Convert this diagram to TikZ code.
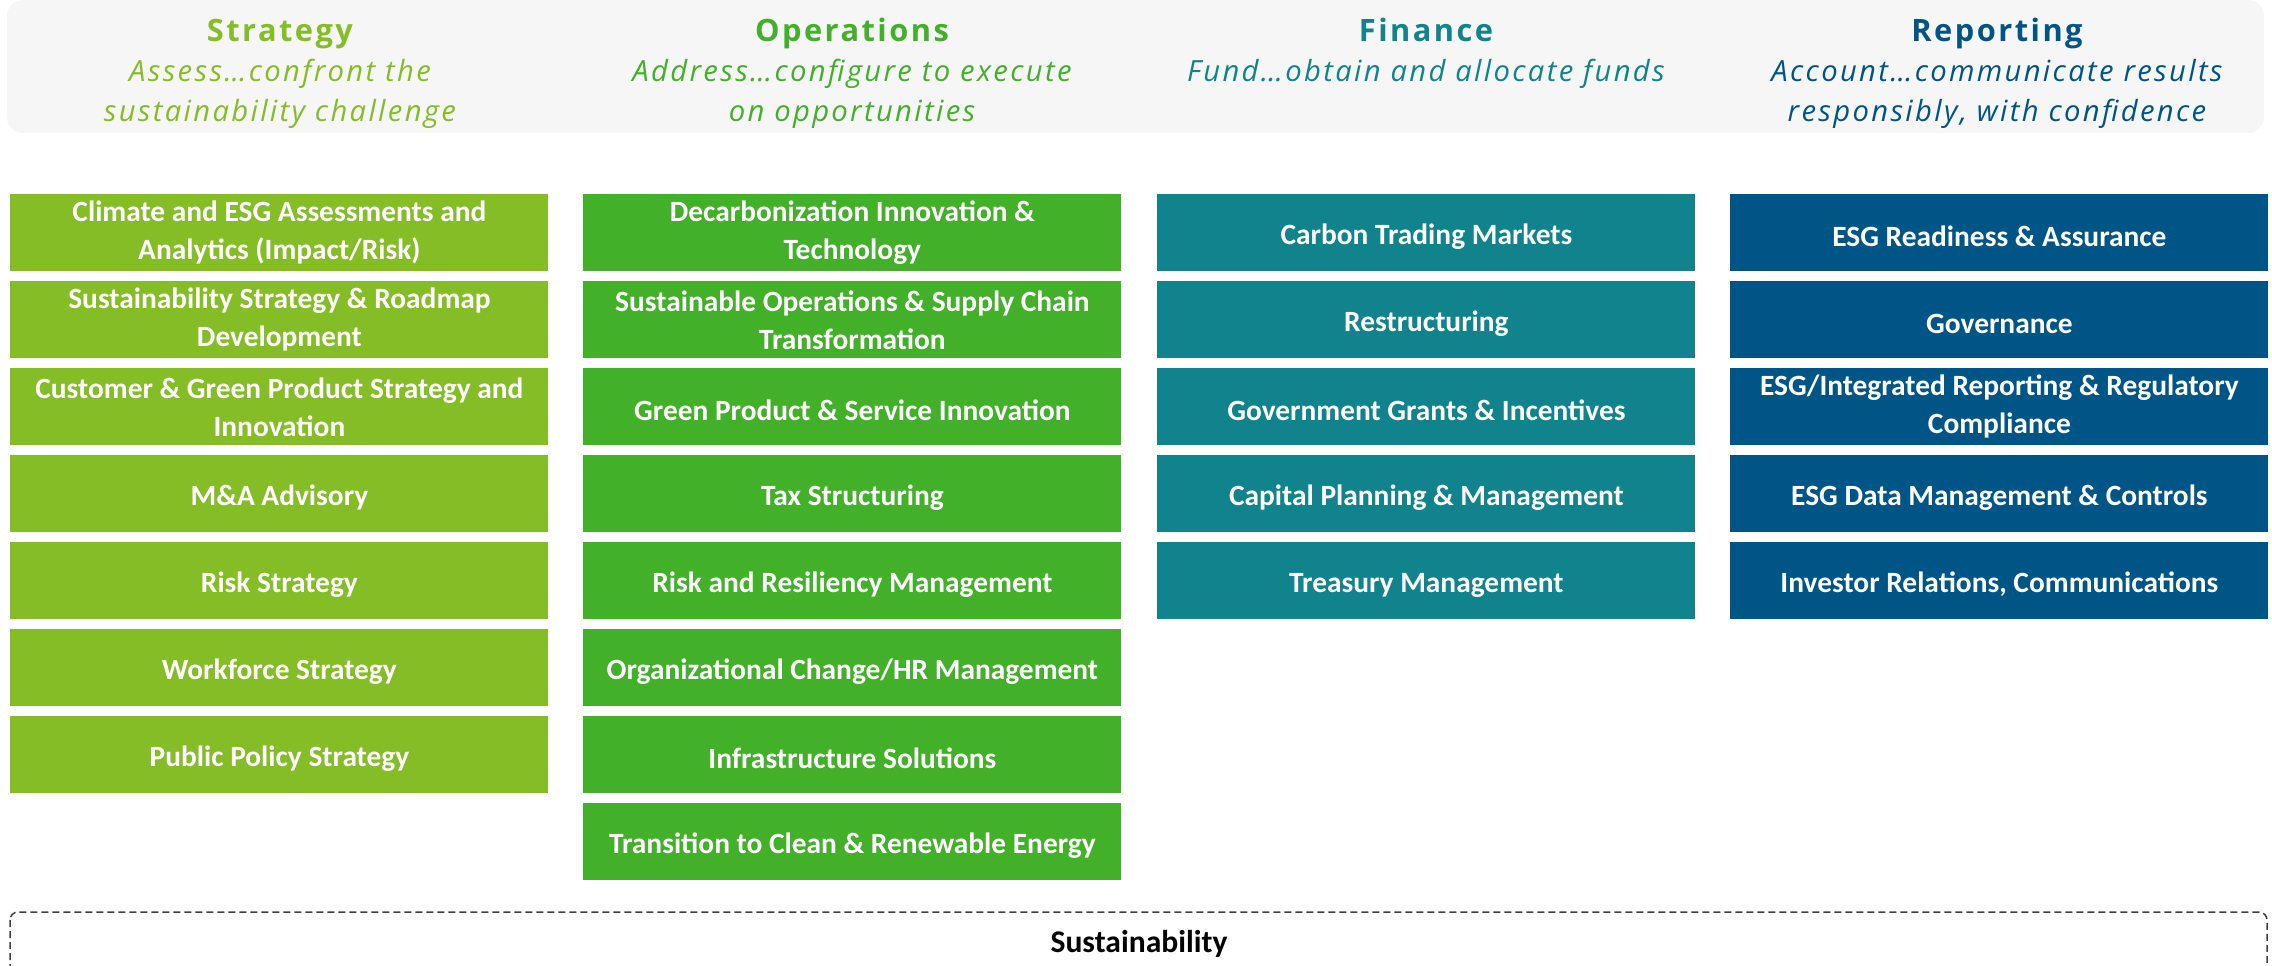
\documentclass[tikz,border=0pt]{standalone}
\usepackage{fontspec}
\setmainfont{Carlito}
\newfontfamily\hdrfont[LetterSpace=8]{Open Sans}
\definecolor{cstr}{HTML}{84BD26}
\definecolor{cops}{HTML}{43B02A}
\definecolor{cfin}{HTML}{10838C}
\definecolor{crep}{HTML}{005587}
\definecolor{hdrbg}{HTML}{F6F6F6}
\definecolor{dashgrey}{HTML}{404040}
\begin{document}
\begin{tikzpicture}[x=0.5pt,y=-0.5pt,
 svc/.style={anchor=north west, minimum width=269pt, minimum height=38.5pt, inner sep=0pt, text=white, font=\bfseries\fontsize{14.7}{19}\selectfont, align=center, execute at begin node={\rule{0pt}{14pt}}},
 strbox/.style={svc, fill=cstr},
 opsbox/.style={svc, fill=cops},
 finbox/.style={svc, fill=cfin},
 repbox/.style={svc, fill=crep},
 ttl/.style={anchor=base, font=\hdrfont\bfseries\fontsize{15.4}{18}\selectfont},
 sub/.style={anchor=base, font=\hdrfont\itshape\fontsize{14.6}{18}\selectfont},
]
\useasboundingbox (0,0) rectangle (2272,965);
\fill[hdrbg, rounded corners=8pt] (7,0) rectangle (2264,133);

% headers
\node[ttl, text=cstr] (ht1) at (280,41) {Strategy};
\node[sub, text=cstr] (hs1a) at (280,81) {Assess…confront the};
\node[sub, text=cstr] (hs1b) at (280,121) {sustainability challenge};
\node[ttl, text=cops] (ht2) at (852,41) {Operations};
\node[sub, text=cops] (hs2a) at (852,81) {Address…configure to execute};
\node[sub, text=cops] (hs2b) at (852,121) {on opportunities};
\node[ttl, text=cfin] (ht3) at (1426,41) {Finance};
\node[sub, text=cfin] (hs3a) at (1426,81) {Fund…obtain and allocate funds};
\node[ttl, text=crep] (ht4) at (1997,41) {Reporting};
\node[sub, text=crep] (hs4a) at (1997,81) {Account…communicate results};
\node[sub, text=crep] (hs4b) at (1997,121) {responsibly, with confidence};

% Strategy
\node[strbox] (s1) at (10,194) {Climate and ESG Assessments and\\Analytics (Impact/Risk)};
\node[strbox] (s2) at (10,281) {Sustainability Strategy \& Roadmap\\Development};
\node[strbox] (s3) at (10,368) {Customer \& Green Product Strategy and\\Innovation};
\node[strbox] (s4) at (10,455) {M\&A Advisory};
\node[strbox] (s5) at (10,542) {Risk Strategy};
\node[strbox] (s6) at (10,629) {Workforce Strategy};
\node[strbox] (s7) at (10,716) {Public Policy Strategy};

% Operations
\node[opsbox] (o1) at (583,194) {Decarbonization Innovation \&\\Technology};
\node[opsbox] (o2) at (583,281) {Sustainable Operations \& Supply Chain\\Transformation};
\node[opsbox] (o3) at (583,368) {Green Product \& Service Innovation};
\node[opsbox] (o4) at (583,455) {Tax Structuring};
\node[opsbox] (o5) at (583,542) {Risk and Resiliency Management};
\node[opsbox] (o6) at (583,629) {Organizational Change/HR Management};
\node[opsbox] (o7) at (583,716) {Infrastructure Solutions};
\node[opsbox] (o8) at (583,803) {Transition to Clean \& Renewable Energy};

% Finance
\node[finbox] (f1) at (1157,194) {Carbon Trading Markets};
\node[finbox] (f2) at (1157,281) {Restructuring};
\node[finbox] (f3) at (1157,368) {Government Grants \& Incentives};
\node[finbox] (f4) at (1157,455) {Capital Planning \& Management};
\node[finbox] (f5) at (1157,542) {Treasury Management};

% Reporting
\node[repbox] (r1) at (1730,194) {ESG Readiness \& Assurance};
\node[repbox] (r2) at (1730,281) {Governance};
\node[repbox] (r3) at (1730,368) {ESG/Integrated Reporting \& Regulatory\\Compliance};
\node[repbox] (r4) at (1730,455) {ESG Data Management \& Controls};
\node[repbox] (r5) at (1730,542) {Investor Relations, Communications};

% Sustainability band
\begin{scope}
\clip (0,0) rectangle (2272,965);
\draw[dashgrey, line width=0.75pt, dash pattern=on 3.5pt off 2pt, rounded corners=4pt] (10,912) rectangle (2267,1010);
\end{scope}
\node[font=\bfseries\fontsize{15.8}{18}\selectfont, text=black] (sus) at (1139,944) {Sustainability};
\end{tikzpicture}
\end{document}
